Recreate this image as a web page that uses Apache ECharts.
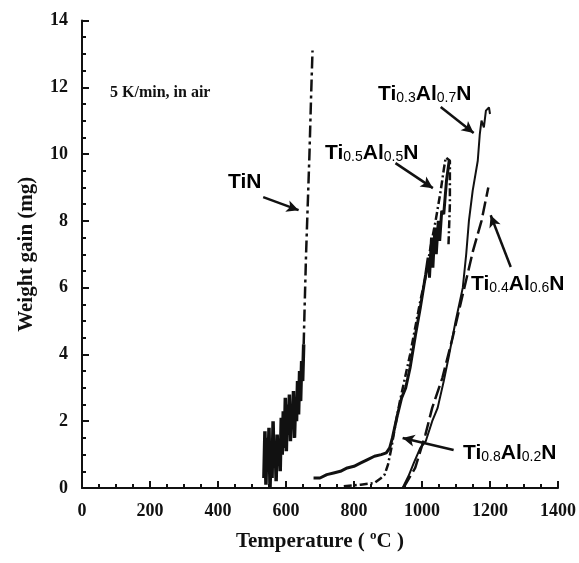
<!DOCTYPE html>
<html>
<head>
<meta charset="utf-8">
<title>Weight gain vs temperature</title>
<script src="https://cdn.jsdelivr.net/npm/echarts@6/dist/echarts.min.js"></script>
<style>
html, body { margin: 0; padding: 0; background: #fff; }
#main { width: 579px; height: 563px; }
</style>
</head>
<body>
<div id="main"></div>
<script>
// [temperature (C), weight gain (mg)]
var tinNoise = [
    [535, 0.3], [538, 1.7], [541, 0.1], [544, 1.5], [547, 0.5], [550, 1.8], [553, 0.0], [556, 1.2],
    [559, 0.3], [562, 2.0], [565, 0.6], [568, 1.4], [571, 0.2], [574, 1.6], [577, 0.8], [580, 1.3],
    [583, 0.5], [586, 2.1], [589, 1.0], [592, 2.3], [595, 1.2], [598, 2.7], [601, 1.1], [604, 2.5],
    [607, 1.6], [610, 2.8], [613, 1.4], [616, 2.4], [619, 1.8], [622, 2.9], [625, 1.5], [628, 2.6],
    [631, 2.0], [634, 3.2], [637, 2.2], [640, 3.5], [643, 2.6], [646, 3.8], [649, 3.2], [652, 4.3]
];
var tinRise = [[652, 4.3], [655, 5.5], [659, 7], [664, 8.5], [669, 10], [674, 11.8], [678, 13.1]];

var ti08 = [
    [681, 0.3], [700, 0.3], [720, 0.4], [740, 0.45], [760, 0.5], [780, 0.6], [800, 0.65], [820, 0.75],
    [840, 0.85], [860, 0.95], [880, 1.0], [895, 1.05], [905, 1.2], [913, 1.5], [928, 2.2], [940, 2.7],
    [952, 3.0], [965, 3.6], [981, 4.6], [995, 5.4], [1011, 6.4], [1018, 6.9], [1022, 6.3], [1028, 7.5],
    [1032, 6.6], [1038, 7.8], [1042, 7.0], [1048, 8.0], [1052, 7.4], [1058, 8.3], [1064, 8.2],
    [1072, 9.2], [1080, 9.8]
];
var ti05 = [
    [770, 0.05], [820, 0.1], [860, 0.15], [880, 0.3], [890, 0.4], [900, 0.7], [910, 1.2], [920, 1.8],
    [935, 2.6], [950, 3.3], [965, 4.0], [980, 4.8], [995, 5.6], [1010, 6.3], [1025, 7.2], [1040, 8.0],
    [1055, 8.9], [1065, 9.6], [1070, 9.9], [1082, 9.8], [1082, 8.5], [1078, 7.3]
];
var ti03 = [
    [943, 0], [960, 0.35], [976, 0.75], [995, 1.2], [1011, 1.4], [1030, 2.0], [1046, 2.4], [1064, 3.2],
    [1080, 4.0], [1099, 5.0], [1120, 6.0], [1130, 7.0], [1138, 8.0], [1149, 8.9], [1164, 9.8],
    [1170, 10.6], [1175, 11.0], [1182, 10.8], [1188, 11.3], [1197, 11.4], [1200, 11.2]
];
var ti04 = [
    [945, 0], [980, 0.6], [1010, 1.6], [1030, 2.4], [1060, 3.3], [1090, 4.5], [1120, 5.8],
    [1150, 7.1], [1175, 8.0], [1195, 9.0]
];

// arrows: [from, to]
var arrows = [
    [[533, 8.71], [637, 8.32]],
    [[922, 9.73], [1032, 8.98]],
    [[1055, 11.41], [1152, 10.63]],
    [[1261, 6.62], [1202, 8.17]],
    [[1093, 1.14], [943, 1.50]]
];

var xTicks = [0, 200, 400, 600, 800, 1000, 1200, 1400];
var yTicks = [0, 2, 4, 6, 8, 10, 12, 14];

var chart = echarts.init(document.getElementById('main'));

var serif = 'Liberation Serif';
var sans = 'Liberation Sans';
var rich = {
    e: { fontFamily: sans, fontWeight: 'bold', fontSize: 21, color: '#111', verticalAlign: 'bottom', lineHeight: 24 },
    d: { fontFamily: sans, fontWeight: 'normal', fontSize: 14, color: '#111', verticalAlign: 'bottom', lineHeight: 23 }
};

function label(x, y, text) {
    return {
        type: 'text', x: x, y: y, silent: true,
        style: { text: text, rich: rich, align: 'left', verticalAlign: 'middle' }
    };
}

var arrowLines = arrows.map(function (a) {
    return [{ coord: a[0], symbol: 'none' }, { coord: a[1], symbol: 'arrow', symbolSize: [9, 12] }];
});

function line(data, type, width) {
    return {
        type: 'line', data: data, showSymbol: false, smooth: false,
        lineStyle: { color: '#111', width: width, type: type },
        silent: true
    };
}

var s0 = line(tinNoise, 'solid', 3.5);
s0.markLine = {
    silent: true, symbol: ['none', 'arrow'], label: { show: false },
    lineStyle: { color: '#111', width: 2.5, type: 'solid' },
    data: arrowLines
};

chart.setOption({
    animation: false,
    backgroundColor: '#fff',
    grid: { left: 82, right: 21, top: 20.5, bottom: 75 },
    xAxis: {
        type: 'value', min: 0, max: 1400, interval: 200,
        name: 'Temperature ( {s|o}C )',
        nameLocation: 'middle', nameGap: 41,
        nameTextStyle: {
            fontFamily: serif, fontWeight: 'bold', fontSize: 21, color: '#111',
            rich: { s: { fontFamily: serif, fontWeight: 'bold', fontSize: 13, color: '#111', verticalAlign: 'top', padding: [0, 0, 12, 0] } }
        },
        axisLine: { lineStyle: { color: '#111', width: 2 } },
        axisTick: { inside: true, length: 7, lineStyle: { color: '#111', width: 2 } },
        minorTick: { show: true, splitNumber: 4, length: 4, lineStyle: { color: '#111', width: 2 } },
        axisLabel: {
            margin: 14, fontFamily: serif, fontWeight: 'bold', fontSize: 18, color: '#111',
            formatter: function (v) { return xTicks.indexOf(v) >= 0 ? String(v) : ''; }
        },
        splitLine: { show: false }
    },
    yAxis: {
        type: 'value', min: 0, max: 14, interval: 2,
        name: 'Weight gain (mg)',
        nameLocation: 'middle', nameGap: 45,
        nameTextStyle: { fontFamily: serif, fontWeight: 'bold', fontSize: 21, color: '#111' },
        axisLine: { show: true, lineStyle: { color: '#111', width: 2 } },
        axisTick: { show: true, inside: true, length: 7, lineStyle: { color: '#111', width: 2 } },
        minorTick: { show: true, splitNumber: 4, length: 4, lineStyle: { color: '#111', width: 2 } },
        axisLabel: {
            margin: 14, fontFamily: serif, fontWeight: 'bold', fontSize: 18, color: '#111',
            formatter: function (v) { return yTicks.indexOf(v) >= 0 ? String(v) : ''; }
        },
        splitLine: { show: false }
    },
    graphic: [
        {
            type: 'text', x: 110, y: 93, silent: true,
            style: { text: '5 K/min, in air', fontFamily: serif, fontWeight: 'bold', fontSize: 16, fill: '#111', align: 'left', verticalAlign: 'middle' }
        },
        label(228, 181, '{e|TiN}'),
        label(325, 152, '{e|Ti}{d|0.5}{e|Al}{d|0.5}{e|N}'),
        label(378, 93, '{e|Ti}{d|0.3}{e|Al}{d|0.7}{e|N}'),
        label(471, 283, '{e|Ti}{d|0.4}{e|Al}{d|0.6}{e|N}'),
        label(463, 452, '{e|Ti}{d|0.8}{e|Al}{d|0.2}{e|N}')
    ],
    series: [
        s0,
        line(tinRise, [12, 4, 3, 4], 2.5),
        line(ti08, 'solid', 3),
        line(ti05, [8, 3, 2, 3], 2.5),
        line(ti03, 'solid', 2),
        line(ti04, [14, 5], 2.5)
    ]
});
</script>
</body>
</html>
